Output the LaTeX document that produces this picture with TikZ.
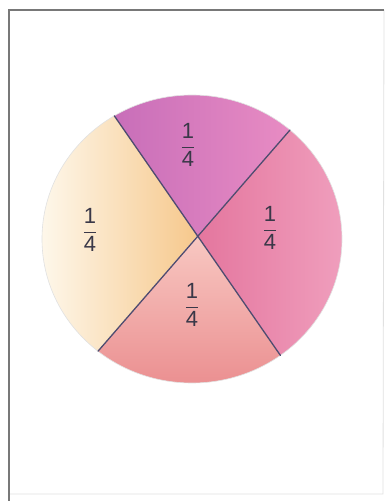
\documentclass[tikz,border=0pt]{standalone}
\usepackage{fontspec}
\setmainfont{Liberation Sans}
\usetikzlibrary{calc}
\definecolor{inkline}{RGB}{78,76,112}
\definecolor{inktext}{RGB}{58,56,72}
\definecolor{frameline}{RGB}{120,120,120}
\definecolor{framefaint}{RGB}{225,225,225}
\definecolor{purpA}{RGB}{200,110,185}
\definecolor{purpB}{RGB}{232,140,195}
\definecolor{pinkA}{RGB}{228,118,158}
\definecolor{pinkB}{RGB}{240,160,190}
\definecolor{salA}{RGB}{248,200,194}
\definecolor{salB}{RGB}{234,140,142}
\definecolor{paleA}{RGB}{254,249,238}
\definecolor{paleB}{RGB}{246,200,140}
\begin{document}
\begin{tikzpicture}[x=1pt,y=1pt,
  divider/.style={draw=inkline,line width=1.3pt,line cap=round},
  quarter/.style={text=inktext,inner sep=0pt,font=\fontsize{22}{26}\selectfont},
  framestrong/.style={draw=frameline,line width=1.2pt},
  frameweak/.style={draw=framefaint,line width=0.8pt}]
\useasboundingbox (0,0) rectangle (387,501);
\fill[white] (0,0) rectangle (387,501);
% frame
\coordinate (ftl) at (9,491);
\coordinate (ftr) at (384,491);
\coordinate (fbl) at (9,0);
\coordinate (fbr) at (383,7);
\draw[frameweak] (ftr) -- (fbr) -- (fbl |- fbr);
\draw[framestrong] (fbl) -- (ftl) -- (ftr);
% geometry
\coordinate (E) at (192,262);
\coordinate (X) at (197,265);
\coordinate (A) at ($(E)+(121.2:150 and 144)$);
\coordinate (B) at ($(E)+(49.2:150 and 144)$);
\coordinate (C) at ($(E)+(-53.9:150 and 144)$);
\coordinate (D) at ($(E)+(-128.8:150 and 144)$);
% wedges
\shade[left color=paleA,right color=paleB] (X) -- (D) arc[start angle=231.2,end angle=121.2,x radius=150,y radius=144] -- cycle;
\shade[left color=purpA,right color=purpB] (X) -- (A) arc[start angle=121.2,end angle=49.2,x radius=150,y radius=144] -- cycle;
\shade[left color=pinkA,right color=pinkB] (X) -- (B) arc[start angle=49.2,end angle=-53.9,x radius=150,y radius=144] -- cycle;
\shade[top color=salA,bottom color=salB] (X) -- (C) arc[start angle=-53.9,end angle=-128.8,x radius=150,y radius=144] -- cycle;
\draw[framefaint,line width=0.6pt] (E) ellipse[x radius=150,y radius=144];
% dividers
\draw[divider] (A) -- (C);
\draw[divider] (B) -- (D);
% labels
\node[quarter] (qtop) at (188,356) {$\displaystyle\frac{\mbox{1}}{\mbox{4}}$};
\node[quarter] (qright) at (270,273) {$\displaystyle\frac{\mbox{1}}{\mbox{4}}$};
\node[quarter] (qbottom) at (192,196) {$\displaystyle\frac{\mbox{1}}{\mbox{4}}$};
\node[quarter] (qleft) at (90,271) {$\displaystyle\frac{\mbox{1}}{\mbox{4}}$};
\end{tikzpicture}
\end{document}
